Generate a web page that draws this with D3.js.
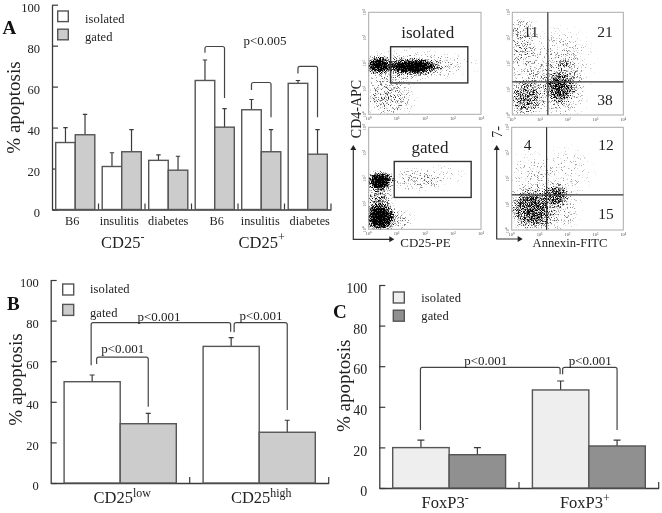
<!DOCTYPE html>
<html><head><meta charset="utf-8">
<script src="https://cdn.jsdelivr.net/npm/d3@7"></script>
<style>
html,body{margin:0;padding:0;background:#fff}
svg{display:block;filter:blur(0.35px)}
text{font-family:"Liberation Serif","Times New Roman",serif;fill:#222}
</style></head><body>
<script>
// ---------- Panel A ----------
const seriesNames = ["isolated","gated"];
const categoriesA = ["B6 -","insulitis -","diabetes -","B6 +","insulitis +","diabetes +"];
const isolatedA    = [32.7,21,24,63,48.7,61.6];
const gatedA       = [36.5,28.2,19.2,40.2,28.2,27];
const isolatedTopA = [40,27.7,26.7,73,53.7,63];
const gatedTopA    = [46.4,39,26,49.3,39,39];
const ticksY = [0,20,40,60,80,100];
// [first group, first series, first leg end, bar height, second group, second series, second leg end]
const bracketsA = [[3,0,76.5,79.6,3,1,54.5],[4,0,58.3,62,4,1,45],[5,0,66.4,69.9,5,1,45]];
// ---------- Panel B ----------
const categoriesB = ["CD25low","CD25high"];
const isolatedB    = [49.9,67.3];
const gatedB       = [29.2,25];
const isolatedTopB = [53.2,71.6];
const gatedTopB    = [34.3,30.9];
const bracketsB = [[0,0,58,79,1,0,74.5],[0,0,58.6,62,0,1,37.6],[1,0,74.2,79,1,1,36]];
// ---------- Panel C ----------
const categoriesC = ["FoxP3-","FoxP3+"];
const isolatedC    = [19.9,48.3];
const gatedC       = [16.4,20.7];
const isolatedTopC = [23.6,52.7];
const gatedTopC    = [19.9,23.6];
const bracketsC = [[0,0,28.6,59.4,1,0,56],[1,0,56,59.4,1,1,28.6]];
// ---------- Flow plots: density regions, in log decades
// [x decade, y decade, x spread, y spread, density]
const flowIsolatedCD25 = [[1.3,1.87,1.3,.5,.32],[1.53,1.87,.7,.23,1],[.34,1.93,.35,.27,.8],[2.95,1.93,.8,.35,.16],[.7,.56,.75,.55,.3],[.6,1.1,.6,.5,.14]];
const flowGatedCD25 = [[.35,1.15,.4,.5,.45],[.4,1.9,.38,.3,1],[.4,.46,.42,.42,1],[1.65,1.93,.7,.35,.27],[2.7,2.1,.6,.4,.13],[1.05,.37,.45,.35,.26]];
const flowIsolatedAnnexin = [[1.72,.9,.75,.9,.28],[1.78,2.08,.85,1,.24],[.34,3,.45,.75,.3],[.46,1.8,.5,.7,.22],[.48,.65,.5,.55,.52],[1.72,1.04,.4,.45,.52],[1.84,2,.18,.1,.3]];
const flowGatedAnnexin = [[1.43,.75,.8,.7,.28],[.6,2.1,.6,.8,.17],[1.9,2.2,.8,.8,.17],[.66,.82,.62,.65,.6],[1.6,1.35,.35,.35,.55]];
const flowTicks = [0,1,2,3,4];
const quadrantsTop = ["11","21","38"];
const quadrantsBottom = ["4","12","15"];

const svg = d3.select("body").append("svg").attr("width",662).attr("height",513);
const defs = svg.append("defs");
const grad = defs.append("radialGradient").attr("id","blob");
[[0,1],[.45,.8],[.75,.3],[1,0]].forEach(s=>grad.append("stop").attr("offset",s[0]).attr("stop-color","#000").attr("stop-opacity",s[1]));

const INK="#3a3a3a";
function panel(o){
  const g = svg.append("g");
  const y = d3.scaleLinear().domain([0,100]).range([o.y0,o.y100]);
  const x = d3.scaleBand().domain(o.categories).range([o.x0,o.x1]);
  const inner = d3.scaleBand().domain(seriesNames).range([o.inset,x.step()-o.inset]);
  const colour = d3.scaleOrdinal().domain(seriesNames).range(o.fills);
  const ay = g.append("g").attr("transform",`translate(${o.x0},0)`)
    .call(d3.axisLeft(y).tickValues(ticksY).tickSize(-6).tickSizeOuter(0).tickPadding(o.tickPad).tickFormat(d3.format("d")));
  ay.selectAll("text").attr("font-size",o.tickFont).attr("dy","0.55em").style("font-family",'"Liberation Serif"');
  const ax = g.append("g").attr("transform",`translate(0,${o.y0})`)
    .call(d3.axisBottom(x).tickSize(0).tickSizeOuter(0).tickPadding(o.catPad));
  ax.selectAll("text").attr("font-size",o.catFont).attr("dx",(d,i)=>o.catDx[i]).style("font-family",'"Liberation Serif"');
  o.labelFn(ax.selectAll(".tick text"));
  g.selectAll(".domain").attr("stroke",INK).attr("stroke-width",1.3);
  g.selectAll(".tick line").attr("stroke",INK).attr("stroke-width",1.2);
  g.selectAll(".bound").data(o.categories).join("line").attr("class","bound")
    .attr("x1",d=>x(d)+x.step()).attr("x2",d=>x(d)+x.step())
    .attr("y1",o.y0).attr("y2",o.y0-6).attr("stroke",INK).attr("stroke-width",1.2);
  o.series.forEach((s,si)=>{
    const name=seriesNames[si];
    const rows=o.categories.map((c,i)=>({c,v:s.values[i],t:s.tops[i]}));
    g.selectAll(".err"+si).data(rows).join("path").attr("class","err"+si)
      .attr("d",d=>{const cx=x(d.c)+inner(name)+inner.bandwidth()/2;
        return `M${cx},${y(d.v)}V${y(d.t)}M${cx-o.cap},${y(d.t)}H${cx+o.cap}`;})
      .attr("fill","none").attr("stroke",INK).attr("stroke-width",1.2);
    g.selectAll(".bar"+si).data(rows).join("rect").attr("class","bar"+si)
      .attr("x",d=>x(d.c)+inner(name)).attr("width",inner.bandwidth())
      .attr("y",d=>y(d.v)).attr("height",d=>y(0)-y(d.v))
      .attr("fill",colour(name)).attr("stroke","#555").attr("stroke-width",1.4);
  });
  const bx=(gi,si)=>x(o.categories[gi])+inner(seriesNames[si])+inner.bandwidth()/2;
  g.selectAll(".br").data(o.brackets).join("path").attr("class","br")
    .attr("d",(b,i)=>{const dl=(o.bracketDx[i]||[0,0])[0],dr=(o.bracketDx[i]||[0,0])[1];
      const l=bx(b[0],b[1])+dl,r=bx(b[4],b[5])+dr;
      return `M${l},${y(b[2])}V${y(b[3])+2}Q${l},${y(b[3])} ${l+2},${y(b[3])}H${r-2}Q${r},${y(b[3])} ${r},${y(b[3])+2}V${y(b[6])}`;})
    .attr("fill","none").attr("stroke","#444").attr("stroke-width",1.2);
  g.append("text").attr("transform",`translate(${o.yLabel[0]},${o.yLabel[1]}) rotate(-90)`)
    .attr("text-anchor","middle").attr("font-size",19).text("% apoptosis");
  g.append("text").attr("x",o.letter[0]).attr("y",o.letter[1]).attr("font-size",19).attr("font-weight","bold").style("fill","#111").text(o.letter[2]);
  seriesNames.forEach((n,i)=>{
    g.append("rect").attr("x",o.legend.x).attr("y",o.legend.ys[i]).attr("width",o.legend.w).attr("height",o.legend.w)
      .attr("fill",colour(n)).attr("stroke","#555").attr("stroke-width",1.4);
    g.append("text").attr("x",o.legend.tx).attr("y",o.legend.tys[i]).attr("font-size",12.5).attr("letter-spacing",.1).text(n);
  });
  g.selectAll(".pl").data(o.pLabels).join("text").attr("class","pl")
    .attr("x",d=>d[1]).attr("y",d=>d[2]).attr("text-anchor","middle").attr("font-size",13).text(d=>d[0]);
  return g;
}
const plain=sel=>sel.text(d=>d.replace(/ [-+]$/,""));
function sup(sel,sizeBase){
  sel.each(function(d){
    const m=d.match(/^(CD25|FoxP3)(.*)$/), t=d3.select(this); t.text(m[1]);
    t.append("tspan").attr("font-size",sizeBase*.72).attr("dy","-0.5em").text(m[2]);
  });
}
panel({categories:categoriesA,x0:52,x1:331,y0:209.5,y100:4.7,inset:3.7,fills:["#fff","#cccccc"],
  series:[{values:isolatedA,tops:isolatedTopA},{values:gatedA,tops:gatedTopA}],
  brackets:bracketsA,bracketDx:[],cap:2.2,tickFont:12.5,tickPad:12,catFont:12.3,catPad:7,catDx:[-3,-2.5,0,2,-1,2],labelFn:plain,
  yLabel:[20,107.5],letter:[2.5,33.5,"A"],
  legend:{x:57.7,w:10.6,ys:[11,29.2],tx:85,tys:[23.3,41]},
  pLabels:[["p<0.005",265,44.5]]});
panel({categories:categoriesB,x0:50.7,x1:328.7,y0:483,y100:280,inset:13.4,fills:["#fff","#cccccc"],
  series:[{values:isolatedB,tops:isolatedTopB},{values:gatedB,tops:gatedTopB}],
  brackets:bracketsB,bracketDx:[[-1,-.5],[4.5,0],[3,0]],cap:2.5,tickFont:12.5,tickPad:12,catFont:16.5,catPad:8,catDx:[2,2],labelFn:s=>sup(s,16.5),
  yLabel:[21.5,379.5],letter:[7,309.5,"B"],
  legend:{x:62.7,w:11,ys:[284,304.4],tx:90,tys:[293.3,316.7]},
  pLabels:[["p<0.001",159,321],["p<0.001",122.7,353],["p<0.001",261,320]]});
panel({categories:categoriesC,x0:379.3,x1:658.7,y0:488,y100:285,inset:13.4,fills:["#eeeeee","#909090"],
  series:[{values:isolatedC,tops:isolatedTopC},{values:gatedC,tops:gatedTopC}],
  brackets:bracketsC,bracketDx:[[-.5,-.5],[2,0]],cap:3.5,tickFont:14,tickPad:12,catFont:16.5,catPad:8,catDx:[-4,-4],labelFn:s=>sup(s,16.5),
  yLabel:[350,385.8],letter:[333,317.5,"C"],
  legend:{x:393.3,w:11,ys:[292,310.2],tx:421.3,tys:[301.7,320]},
  pLabels:[["p<0.001",485.7,364.5],["p<0.001",590.3,364.5]]});

[["CD25","-",122.7],["CD25","+",261.7]].forEach(d=>{
  const t=svg.append("text").attr("x",d[2]).attr("y",248).attr("text-anchor","middle").attr("font-size",16.5).text(d[0]);
  t.append("tspan").attr("font-size",12).attr("dy","-0.6em").text(d[1]);
});

function flow(o,idx){
  const x=d3.scaleLinear().domain([0,4]).range([o.l,o.r]);
  const y=d3.scaleLinear().domain([0,4]).range([o.b,o.t]);
  const w=o.r-o.l,h=o.b-o.t;
  const f=defs.append("filter").attr("id","speckle"+idx).attr("filterUnits","userSpaceOnUse")
    .attr("x",o.l).attr("y",o.t).attr("width",w).attr("height",h).attr("color-interpolation-filters","sRGB");
  f.append("feTurbulence").attr("type","fractalNoise").attr("baseFrequency",1.3).attr("numOctaves",3).attr("seed",idx*7+3).attr("result","t");
  f.append("feColorMatrix").attr("in","t").attr("type","matrix").attr("values","0 0 0 0 0  0 0 0 0 0  0 0 0 0 0  2.2 0 0 0 -.6").attr("result","n");
  f.append("feComposite").attr("in","SourceGraphic").attr("in2","n").attr("operator","arithmetic").attr("k1",0).attr("k2",1.5).attr("k3",-1).attr("k4",0).attr("result","d");
  f.append("feComponentTransfer").attr("in","d").attr("result","s").append("feFuncA").attr("type","linear").attr("slope",1.7);
  f.append("feGaussianBlur").attr("in","s").attr("stdDeviation",.3);
  const g=svg.append("g");
  g.append("g").attr("filter",`url(#speckle${idx})`)
    .selectAll("ellipse").data(o.blobs).join("ellipse")
    .attr("cx",d=>x(d[0])).attr("cy",d=>y(d[1]))
    .attr("rx",d=>x(d[2])-x(0)).attr("ry",d=>y(0)-y(d[3]))
    .attr("transform",d=>{const cx=x(d[0]),cy=y(d[1]);return `translate(${cx},${cy}) scale(1.6) translate(${-cx},${-cy})`;})
    .attr("fill","url(#blob)").attr("fill-opacity",d=>d[4]);
  g.append("rect").attr("x",o.l).attr("y",o.t).attr("width",w).attr("height",h).attr("fill","none").attr("stroke","#aaa").attr("stroke-width",1);
  g.selectAll(".fx").data(flowTicks).join("text").attr("class","fx").attr("x",d=>x(d)).attr("y",o.b+5.5)
    .attr("text-anchor","middle").attr("font-size",4.5).style("fill","#555").text(d=>"10"+"⁰¹²³⁴"[d]);
  g.selectAll(".fy").data(flowTicks).join("text").attr("class","fy")
    .attr("transform",d=>`translate(${o.l-2.5},${y(d)}) rotate(-90)`)
    .attr("text-anchor","middle").attr("font-size",4.5).style("fill","#555").text(d=>"10"+"⁰¹²³⁴"[d]);
  if(o.gate) g.append("rect").attr("x",x(o.gate[0])).attr("y",y(o.gate[3])).attr("width",x(o.gate[1])-x(o.gate[0])).attr("height",y(o.gate[2])-y(o.gate[3]))
    .attr("fill","none").attr("stroke","#333").attr("stroke-width",1.4);
  if(o.quad){
    g.append("line").attr("x1",x(o.quad[0])).attr("x2",x(o.quad[0])).attr("y1",o.t).attr("y2",o.b).attr("stroke","#333").attr("stroke-width",1.2);
    g.append("line").attr("x1",o.l).attr("x2",o.r).attr("y1",y(o.quad[1])).attr("y2",y(o.quad[1])).attr("stroke","#333").attr("stroke-width",1.2);
  }
}
flow({l:368.7,r:481,t:12.3,b:114.3,blobs:flowIsolatedCD25,gate:[.78,3.53,1.23,2.65]},1);
flow({l:368.7,r:481,t:127.3,b:229.3,blobs:flowGatedCD25,gate:[.91,3.65,1.25,2.66]},2);
flow({l:512.3,r:623.3,t:12.3,b:115,blobs:flowIsolatedAnnexin,quad:[1.28,1.29]},3);
flow({l:511.7,r:623.3,t:127.3,b:230,blobs:flowGatedAnnexin,quad:[1.25,1.37]},4);

const ann=(x,y,s,size)=>svg.append("text").attr("x",x).attr("y",y).attr("text-anchor","middle").attr("font-size",size).text(s);
ann(427.7,38.3,"isolated",17); ann(430,152.7,"gated",17);
[[531,36.7],[605,36.7],[605,105.3]].forEach((p,i)=>ann(p[0],p[1],quadrantsTop[i],15.5));
[[527.7,150],[606,150],[606,218.7]].forEach((p,i)=>ann(p[0],p[1],quadrantsBottom[i],15.5));
ann(425.5,246.7,"CD25-PE",13); ann(570,246.7,"Annexin-FITC",12.6);
svg.append("text").attr("transform","translate(361,109) rotate(-90)").attr("text-anchor","middle").attr("font-size",14).text("CD4-APC");
svg.append("text").attr("transform","translate(502,132) rotate(-90)").attr("text-anchor","middle").attr("font-size",14).text("7-");
[[353.3,239.3,145,394.3],[496.7,239,145,522.7]].forEach(a=>{
  svg.append("path").attr("d",`M${a[0]},${a[2]+3}V${a[1]}H${a[3]-3}`).attr("fill","none").attr("stroke","#333").attr("stroke-width",1.2);
  svg.append("path").attr("d",`M${a[0]-3},${a[2]+5}L${a[0]},${a[2]}L${a[0]+3},${a[2]+5}Z`).attr("fill","#222");
  svg.append("path").attr("d",`M${a[3]-5},${a[1]-3}L${a[3]},${a[1]}L${a[3]-5},${a[1]+3}Z`).attr("fill","#222");
});
</script>
</body></html>
